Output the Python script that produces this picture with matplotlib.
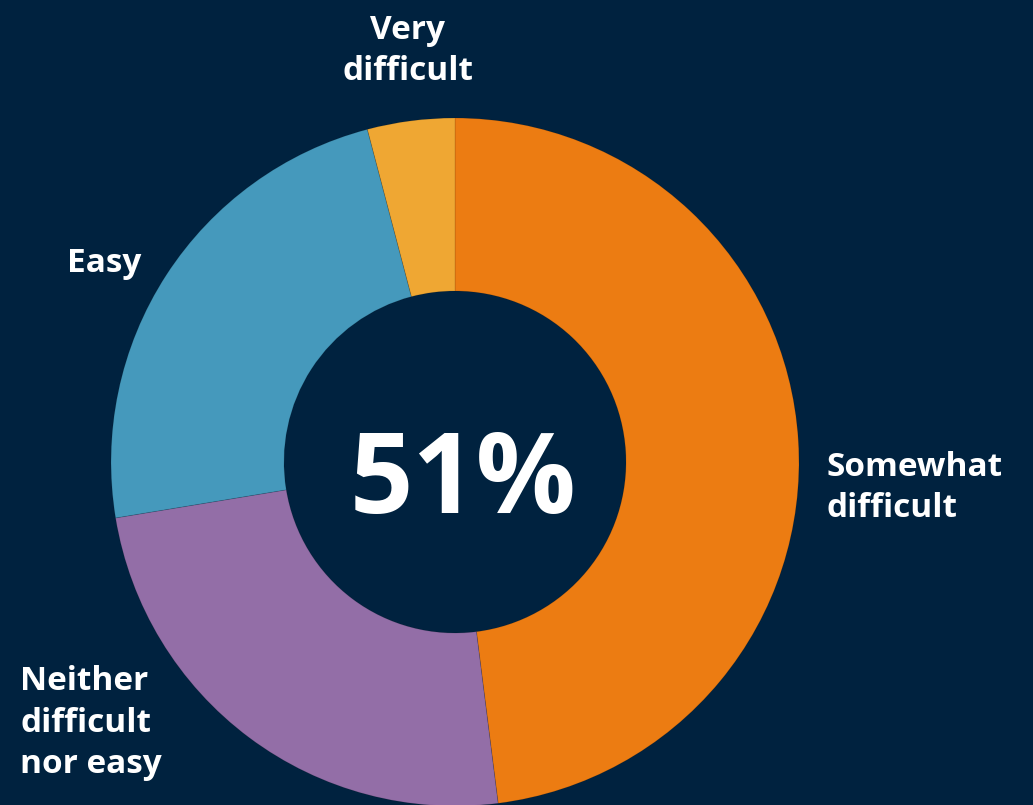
import matplotlib.pyplot as plt

labels = ['Somewhat\ndifficult', 'Neither\ndifficult\nnor easy', 'Easy', 'Very\ndifficult']
shares = [48.0, 24.4, 23.5, 4.1]
colors = ['#EC7C12', '#936EA7', '#4599BC', '#EFA733']
center_text = '51%'

bg = '#00223F'
plt.rcParams['font.family'] = ['Open Sans', 'DejaVu Sans']

fig = plt.figure(figsize=(10.33, 8.05), dpi=100, facecolor=bg)
ax = fig.add_axes([0, 0, 1, 1])
ax.set_facecolor(bg)

cx, cy = 455, 805 - 462
R = 344
ax.pie(shares, colors=colors, startangle=90, counterclock=False,
       center=(cx, cy), radius=R, frame=True,
       wedgeprops=dict(width=R - 171, linewidth=0.6, edgecolor='#00000022'))
ax.set_xlim(0, 1033)
ax.set_ylim(0, 805)
ax.set_aspect('equal')
ax.axis('off')

ax.text(cx + 8, cy - 22, center_text, color='white', fontsize=80, fontweight='bold',
        ha='center', va='center')

kw = dict(color='white', fontsize=24, fontweight='bold', linespacing=1.33)
ax.text(826, 805 - 488, labels[0], ha='left', va='center', **kw)
ax.text(20, 805 - 723, labels[1], ha='left', va='center', **kw)
ax.text(67, 805 - 264, labels[2], ha='left', va='center', **kw)
ax.text(408, 805 - 51, labels[3], ha='center', va='center', **kw)

fig.savefig('out.png', dpi=100, facecolor=bg)
